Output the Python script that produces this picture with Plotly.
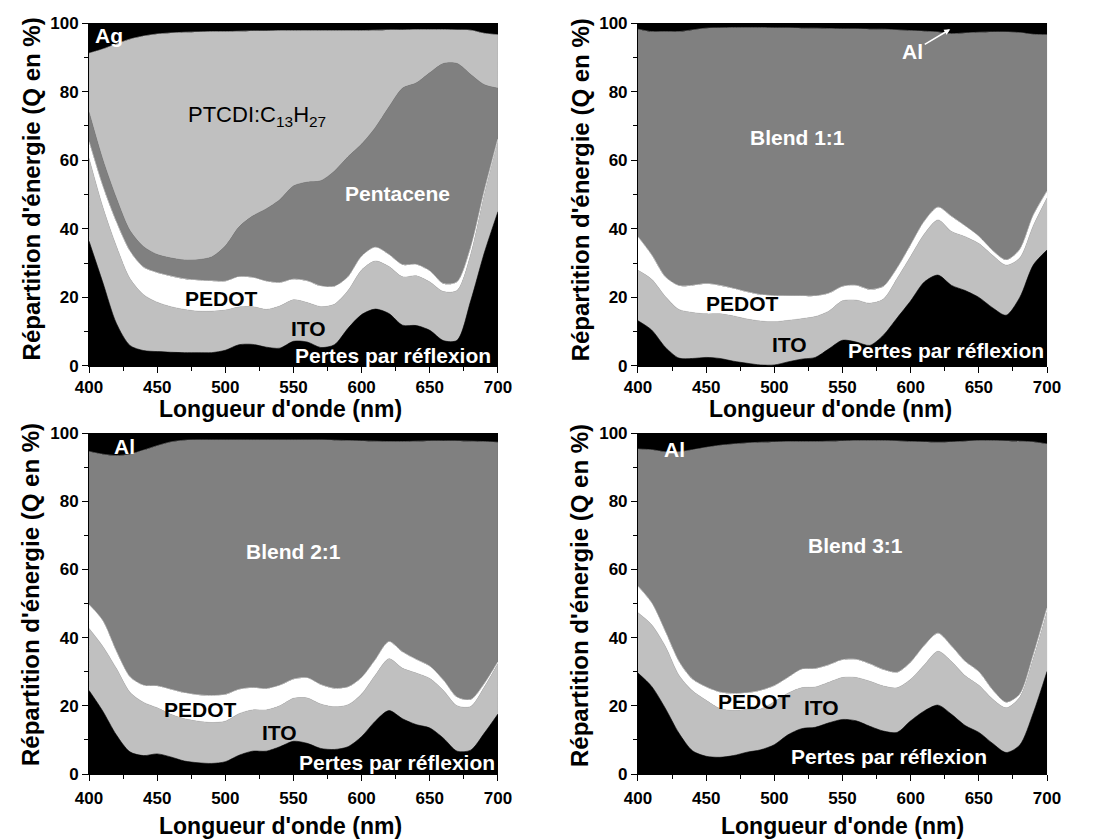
import plotly.graph_objects as go

# wavelength grid (nm) shared by the four panels
WL = list(range(400, 701, 10))
TOTAL = 100  # the layers add up to 100 %

# --- panel 1 : ITO / PEDOT / Pentacene / PTCDI:C13H27 / Ag (upper edge of each layer, cumulative %)
p1_reflexion = [36.4, 24.5, 12.5, 6.0, 4.5, 4.2, 4.0, 3.9, 3.9, 3.9, 4.6, 6.2, 6.3, 5.5, 5.2, 7.2,
                7.0, 5.4, 6.2, 11.0, 15.0, 16.6, 15.3, 11.9, 11.8, 10.4, 7.4, 7.5, 19.0, 33.0, 45.0]
p1_ito = [60.6, 46.5, 35.0, 25.5, 20.8, 18.6, 17.3, 16.5, 16.0, 16.0, 16.3, 17.2, 17.3, 16.5, 17.5, 19.3,
          18.5, 17.3, 18.0, 22.0, 28.0, 30.6, 29.0, 26.0, 26.3, 24.5, 21.7, 22.0, 32.5, 50.0, 65.7]
p1_pedot = [65.4, 52.5, 42.0, 33.5, 28.8, 27.2, 26.2, 25.4, 25.0, 24.8, 24.7, 26.0, 25.8, 24.7, 24.3, 25.3,
            24.8, 23.3, 23.2, 26.0, 32.0, 34.6, 32.5, 29.5, 29.6, 27.7, 24.0, 24.5, 34.5, 51.0, 66.2]
p1_pentacene = [74.0, 60.3, 49.0, 39.5, 34.8, 32.5, 31.5, 30.9, 31.0, 31.8, 35.0, 40.5, 43.7, 45.8, 48.5, 52.5,
                53.6, 54.0, 56.8, 61.0, 64.7, 69.5, 75.5, 81.0, 82.5, 85.5, 88.2, 88.2, 85.0, 82.0, 81.0]
p1_ptcdi = [91.2, 92.4, 93.9, 95.3, 96.2, 96.8, 97.1, 97.3, 97.4, 97.5, 97.5, 97.6, 97.7, 97.7, 97.8, 97.8,
            97.8, 97.8, 97.8, 97.8, 97.8, 97.9, 98.0, 98.0, 98.1, 98.1, 98.1, 98.0, 97.9, 97.0, 96.6]

# --- panel 2 : Blend 1:1
p2_reflexion = [13.2, 10.5, 5.5, 2.3, 2.2, 2.5, 2.2, 1.4, 0.8, 0.3, 0.3, 1.2, 2.0, 2.5, 5.0, 7.5,
                7.0, 6.0, 9.0, 14.0, 19.0, 24.5, 26.5, 23.5, 22.0, 20.0, 17.0, 14.8, 20.0, 29.5, 33.8]
p2_ito = [27.9, 25.3, 20.3, 16.5, 15.6, 15.2, 15.2, 14.6, 13.7, 13.1, 12.9, 13.3, 13.8, 14.4, 16.0, 19.0,
          19.2, 18.3, 19.5, 25.5, 32.0, 38.5, 42.6, 39.2, 37.7, 35.7, 32.3, 29.4, 31.5, 41.0, 49.0]
p2_pedot = [37.7, 32.4, 26.0, 23.4, 23.5, 24.0, 23.5, 22.6, 21.6, 20.8, 20.5, 20.4, 20.4, 20.4, 21.2, 23.2,
            23.5, 22.3, 23.2, 28.5, 35.3, 42.2, 46.3, 43.6, 40.8, 37.8, 33.7, 30.9, 34.0, 44.0, 51.0]
p2_blend = [98.2, 97.5, 97.5, 97.5, 98.0, 98.5, 98.6, 98.7, 98.7, 98.7, 98.6, 98.6, 98.5, 98.5, 98.4, 98.3,
            98.3, 98.2, 98.2, 98.0, 97.8, 97.6, 97.4, 96.9, 97.1, 97.3, 97.4, 97.4, 97.2, 96.7, 96.6]

# --- panel 3 : Blend 2:1
p3_reflexion = [24.5, 18.5, 11.5, 6.5, 5.4, 5.9, 5.0, 3.8, 3.3, 3.1, 3.6, 5.5, 6.7, 6.7, 8.0, 9.6,
                9.0, 7.5, 7.2, 8.0, 11.0, 15.5, 18.6, 16.2, 14.5, 13.5, 10.5, 6.7, 7.0, 12.0, 17.6]
p3_ito = [42.7, 37.5, 31.0, 24.0, 21.0, 19.4, 17.5, 16.2, 15.5, 15.1, 15.5, 17.7, 18.8, 18.8, 20.0, 22.2,
          22.3, 20.5, 19.7, 20.3, 23.5, 29.0, 33.8, 31.0, 29.6, 28.0, 24.5, 20.0, 19.8, 25.5, 32.4]
p3_pedot = [49.7, 45.0, 36.0, 28.5, 26.0, 25.8, 24.8, 23.8, 23.2, 23.0, 23.3, 24.8, 25.3, 25.0, 26.0, 27.8,
            28.2, 26.2, 25.1, 25.5, 28.3, 33.5, 38.8, 35.8, 33.6, 31.6, 27.5, 22.5, 21.8, 26.5, 32.9]
p3_blend = [94.6, 93.8, 93.4, 93.8, 95.0, 96.3, 97.4, 97.9, 98.0, 98.0, 98.0, 98.0, 98.0, 98.0, 98.0, 98.0,
            98.0, 98.0, 97.9, 97.8, 97.7, 97.6, 97.5, 97.5, 97.6, 97.7, 97.7, 97.7, 97.6, 97.5, 97.3]

# --- panel 4 : Blend 3:1
p4_reflexion = [29.6, 25.7, 19.3, 12.0, 6.8, 5.2, 4.9, 5.4, 6.4, 7.1, 8.6, 11.5, 13.3, 13.7, 15.0, 16.0,
                15.6, 14.0, 12.6, 12.2, 15.6, 18.5, 20.2, 17.5, 14.2, 12.2, 9.0, 6.3, 8.5, 18.0, 30.1]
p4_ito = [47.3, 43.8, 37.5, 29.0, 24.4, 21.6, 19.2, 18.6, 18.9, 19.1, 21.2, 23.7, 25.3, 25.5, 26.9, 28.3,
          28.3, 27.2, 25.8, 25.3, 27.8, 32.0, 36.0, 33.0, 28.8, 26.0, 22.0, 19.4, 22.5, 34.0, 47.7]
p4_pedot = [55.1, 50.2, 41.8, 33.0, 27.8, 25.5, 24.0, 23.6, 23.8, 24.5, 25.9, 28.3, 30.7, 30.9, 32.0, 33.5,
            33.6, 32.3, 30.6, 29.8, 32.8, 37.7, 41.3, 37.5, 33.0, 30.0, 24.7, 21.0, 23.4, 35.0, 48.7]
p4_blend = [95.3, 95.1, 94.5, 94.5, 95.1, 95.8, 96.4, 96.8, 97.1, 97.3, 97.4, 97.5, 97.5, 97.5, 97.6, 97.7,
            97.8, 97.8, 97.8, 97.7, 97.5, 97.4, 97.3, 97.4, 97.6, 97.8, 97.8, 97.7, 97.6, 97.4, 96.8]

BLACK, LIGHT, WHITE, GREY = "#000000", "#c0c0c0", "#ffffff", "#808080"
FONT = "Liberation Sans, Arial, sans-serif"
X_TITLE = "Longueur d'onde (nm)"
Y_TITLE = "Répartition d'énergie (Q en %)"
top_edge = [TOTAL] * len(WL)

panels = [
    ("x", "y", [(p1_reflexion, BLACK), (p1_ito, LIGHT), (p1_pedot, WHITE),
                (p1_pentacene, GREY), (p1_ptcdi, LIGHT), (top_edge, BLACK)]),
    ("x2", "y2", [(p2_reflexion, BLACK), (p2_ito, LIGHT), (p2_pedot, WHITE),
                  (p2_blend, GREY), (top_edge, BLACK)]),
    ("x3", "y3", [(p3_reflexion, BLACK), (p3_ito, LIGHT), (p3_pedot, WHITE),
                  (p3_blend, GREY), (top_edge, BLACK)]),
    ("x4", "y4", [(p4_reflexion, BLACK), (p4_ito, LIGHT), (p4_pedot, WHITE),
                  (p4_blend, GREY), (top_edge, BLACK)]),
]

fig = go.Figure()
for xa, ya, layers in panels:
    for i, (edge, col) in enumerate(layers):
        fig.add_trace(go.Scatter(
            x=WL, y=edge, xaxis=xa, yaxis=ya, mode="lines",
            line=dict(width=0.6, color=col, shape="spline", smoothing=0.8),
            fill="tozeroy" if i == 0 else "tonexty", fillcolor=col,
            showlegend=False, hoverinfo="skip"))

TICKFONT = dict(family=FONT, size=17, color="black", weight="bold")


def xaxis(domain, anchor, lblpad):
    return dict(domain=domain, anchor=anchor, range=[400, 700], tick0=400, dtick=50,
                ticks="outside", ticklen=6, tickwidth=1, tickcolor="black",
                minor=dict(dtick=25, ticks="outside", ticklen=4, tickcolor="black", showgrid=False),
                showline=True, linecolor="black", linewidth=1, showgrid=False, zeroline=False,
                tickfont=TICKFONT, ticklabelstandoff=lblpad, automargin=False)


def yaxis(domain, anchor):
    return dict(domain=domain, anchor=anchor, range=[0, 100], tick0=0, dtick=20,
                ticks="outside", ticklen=6, tickwidth=1, tickcolor="black",
                minor=dict(dtick=10, ticks="outside", ticklen=4, tickcolor="black", showgrid=False),
                showline=True, linecolor="black", linewidth=1, showgrid=False, zeroline=False,
                tickfont=TICKFONT, automargin=False)


XL, XR = [0.0732, 0.4426], [0.5691, 0.9386]
YT, YB = [0.5733, 0.9821], [0.0870, 0.4934]

fig.update_layout(
    width=1107, height=839, margin=dict(l=0, r=0, t=0, b=0),
    paper_bgcolor="white", plot_bgcolor=BLACK,
    xaxis=xaxis(XL, "y", 0), yaxis=yaxis(YT, "x"),
    xaxis2=xaxis(XR, "y2", 0), yaxis2=yaxis(YT, "x2"),
    xaxis3=xaxis(XL, "y3", 3), yaxis3=yaxis(YB, "x3"),
    xaxis4=xaxis(XR, "y4", 3), yaxis4=yaxis(YB, "x4"),
)

# axis titles (the originals sit a little off-centre, so they are placed by hand)
for xa, xpos, drop, ymid in [("x", 0.467, 43, 0.515), ("x2", 0.47, 43, 0.515),
                             ("x3", 0.467, 52, 0.525), ("x4", 0.5, 52, 0.525)]:
    ya = xa.replace("x", "y")
    fig.add_annotation(text=X_TITLE, xref=f"{xa} domain", yref=f"{ya} domain", x=xpos, y=0,
                       yshift=-drop, showarrow=False, xanchor="center", yanchor="middle",
                       font=dict(family=FONT, size=23, color="black", weight="bold"))
    fig.add_annotation(text=Y_TITLE, xref=f"{xa} domain", yref=f"{ya} domain", x=0, y=ymid,
                       xshift=-58, textangle=-90, showarrow=False,
                       xanchor="center", yanchor="middle",
                       font=dict(family=FONT, size=24, color="black", weight="bold"))


def label(text, x, y, ax, color, bold=True, size=21):
    fig.add_annotation(text=text, x=x, y=y, xref=ax, yref=ax.replace("x", "y"),
                       showarrow=False,
                       font=dict(family=FONT, size=size, color=color,
                                 weight="bold" if bold else "normal"))


# panel 1
label("Ag", 415, 96.3, "x", WHITE)
label("PTCDI:C<sub>13</sub>H<sub>27</sub>", 523, 73, "x", BLACK, bold=False, size=22)
label("Pentacene", 626, 50.4, "x", WHITE)
label("PEDOT", 497, 19.8, "x", BLACK)
label("ITO", 561, 10.9, "x", BLACK)
label("Pertes par réflexion", 623, 3.2, "x", WHITE)
# panel 2
fig.add_annotation(text="Al", x=629, y=98.2, xref="x2", yref="y2",
                   ax=601.5, ay=91.7, axref="x2", ayref="y2",
                   showarrow=True, arrowhead=2, arrowsize=0.8, arrowwidth=1.5, arrowcolor=WHITE,
                   font=dict(family=FONT, size=21, color=WHITE, weight="bold"))
label("Blend 1:1", 517, 66.7, "x2", WHITE)
label("PEDOT", 477, 18.1, "x2", BLACK)
label("ITO", 511, 6.4, "x2", BLACK)
label("Pertes par réflexion", 626, 4.4, "x2", WHITE)
# panel 3
label("Al", 426, 96, "x3", WHITE)
label("Blend 2:1", 550, 65.4, "x3", WHITE)
label("PEDOT", 481.5, 19, "x3", BLACK)
label("ITO", 539.4, 12.1, "x3", BLACK)
label("Pertes par réflexion", 625.8, 3.3, "x3", WHITE)
# panel 4
label("Al", 427, 95.3, "x4", WHITE)
label("Blend 3:1", 559.6, 66.9, "x4", WHITE)
label("PEDOT", 485.4, 21.3, "x4", BLACK)
label("ITO", 534.6, 19.6, "x4", BLACK)
label("Pertes par réflexion", 584.3, 5.1, "x4", WHITE)

fig.write_html("out.html")
